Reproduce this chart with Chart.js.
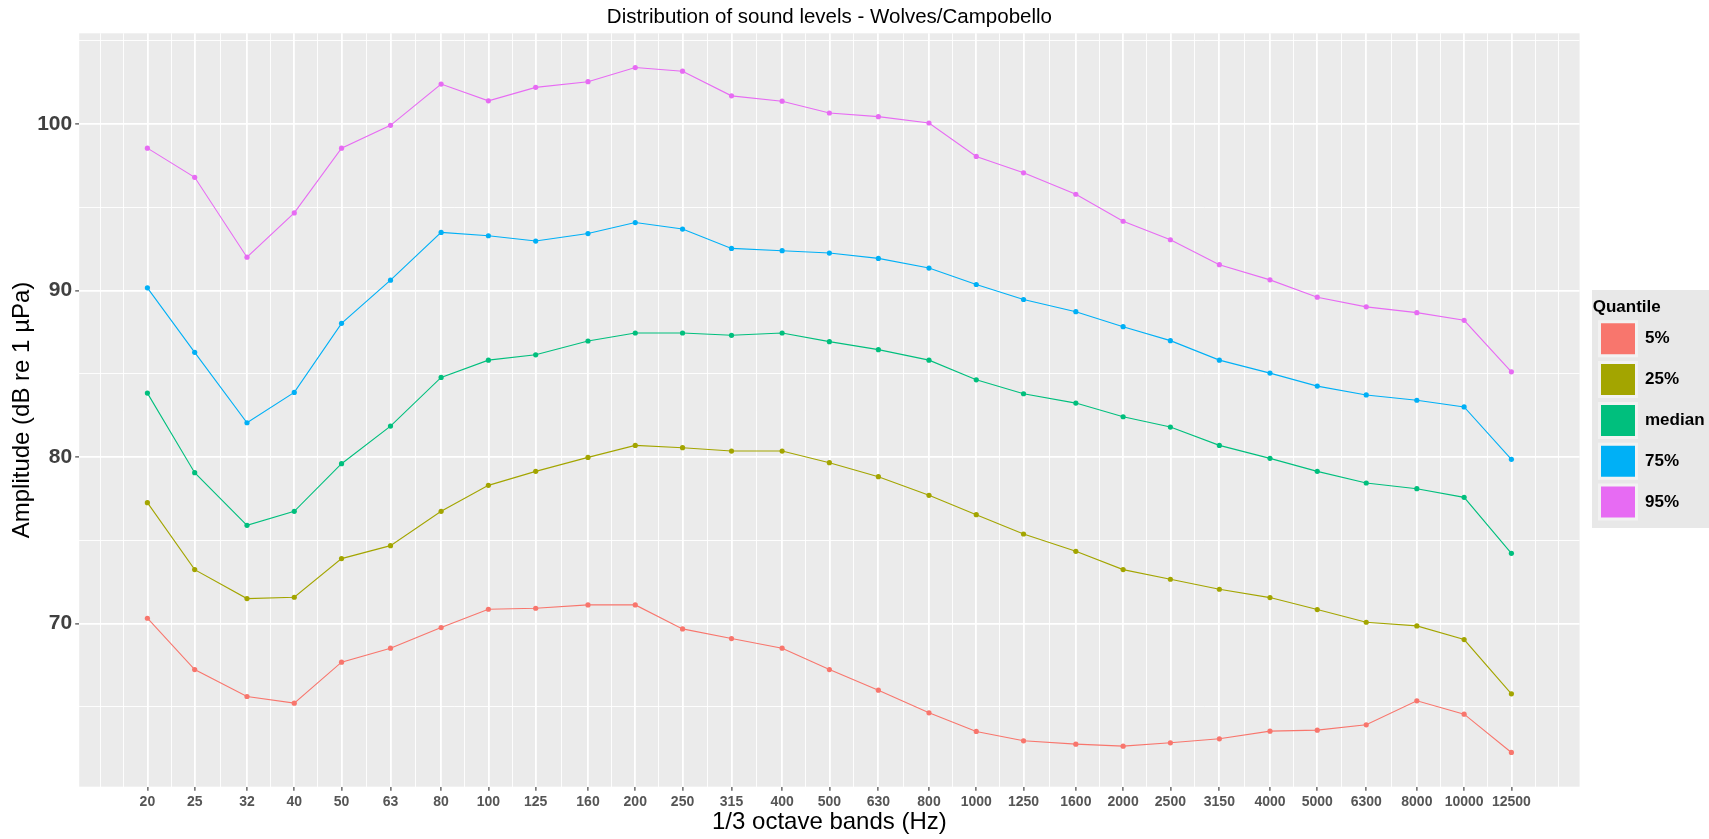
<!DOCTYPE html>
<html>
<head>
<meta charset="utf-8">
<script src="https://cdn.jsdelivr.net/npm/chart.js@4.4.1/dist/chart.umd.min.js"></script>
<style>
  html, body { margin: 0; padding: 0; background: #ffffff; }
  canvas { display: block; }
</style>
</head>
<body>
<canvas id="chart" width="1709" height="839"></canvas>
<script>
// ---------------- data ----------------
const bands = [20, 25, 32, 40, 50, 63, 80, 100, 125, 160, 200, 250, 315, 400, 500, 630, 800,
  1000, 1250, 1600, 2000, 2500, 3150, 4000, 5000, 6300, 8000, 10000, 12500];
const bandLabels = ['20', '25', '32', '40', '50', '63', '80', '100', '125', '160', '200', '250', '315',
  '400', '500', '630', '800', '1000', '1250', '1600', '2000', '2500', '3150', '4000', '5000', '6300',
  '8000', '10000', '12500'];

const q05 = [70.32, 67.24, 65.62, 65.22, 67.68, 68.52, 69.76, 70.86, 70.92, 71.12,
  71.12, 69.68, 69.10, 68.52, 67.24, 66.00, 64.64, 63.52, 62.96, 62.76,
  62.64, 62.84, 63.08, 63.54, 63.60, 63.92, 65.36, 64.56, 62.26];
const q25 = [77.26, 73.24, 71.50, 71.58, 73.90, 74.68, 76.74, 78.30, 79.14, 79.98,
  80.70, 80.56, 80.36, 80.36, 79.66, 78.82, 77.70, 76.54, 75.38, 74.34,
  73.24, 72.66, 72.06, 71.56, 70.84, 70.08, 69.86, 69.04, 65.78];
const qMedian = [83.84, 79.06, 75.90, 76.74, 79.60, 81.86, 84.78, 85.82, 86.14, 86.97,
  87.45, 87.45, 87.31, 87.45, 86.93, 86.45, 85.82, 84.64, 83.80, 83.24,
  82.42, 81.80, 80.70, 79.92, 79.14, 78.44, 78.10, 77.58, 74.22];
const q75 = [90.16, 86.29, 82.06, 83.88, 88.03, 90.62, 93.49, 93.29, 92.97, 93.42,
  94.08, 93.69, 92.53, 92.39, 92.25, 91.93, 91.35, 90.36, 89.46, 88.73,
  87.83, 86.99, 85.82, 85.04, 84.26, 83.73, 83.41, 83.01, 79.86];
const q95 = [98.55, 96.80, 92.00, 94.66, 98.55, 99.92, 102.40, 101.39, 102.20, 102.54,
  103.39, 103.17, 101.69, 101.37, 100.66, 100.44, 100.06, 98.05, 97.07, 95.78,
  94.16, 93.05, 91.55, 90.64, 89.60, 89.02, 88.67, 88.21, 85.12];

const seriesNames = ['5%', '25%', 'median', '75%', '95%'];
const seriesValues = [q05, q25, qMedian, q75, q95];
const seriesColors = ['#F8766D', '#A3A500', '#00BF7D', '#00B0F6', '#E76BF3'];

const yMajorTicks = [70, 80, 90, 100];
const yMinorTicks = [65, 75, 85, 95, 105];

const chartTitle = 'Distribution of sound levels - Wolves/Campobello';
const xTitle = '1/3 octave bands (Hz)';
const yTitle = 'Amplitude (dB re 1 µPa)';
const legendTitle = 'Quantile';

// ---------------- scale limits (ggplot-like 5% expansion) ----------------
const logB = bands.map(Math.log10);
const lRange = logB[logB.length - 1] - logB[0];
const xMin = Math.pow(10, logB[0] - 0.05 * lRange);
const xMax = Math.pow(10, logB[logB.length - 1] + 0.05 * lRange);
const allVals = seriesValues.flat();
const vMin = Math.min(...allVals), vMax = Math.max(...allVals);
const yMin = vMin - 0.05 * (vMax - vMin);
const yMax = vMax + 0.05 * (vMax - vMin);

// minor vertical grid positions (midpoints in log space, plus one extension step each side)
const stepL = logB[1] - logB[0];
const ext = [logB[0] - stepL, ...logB, logB[logB.length - 1] + stepL];
const xMinor = [Math.pow(10, ext[0]), Math.pow(10, ext[ext.length - 1])];
for (let i = 0; i < ext.length - 1; i++) xMinor.push(Math.pow(10, (ext[i] + ext[i + 1]) / 2));
const xTickValues = bands.concat(xMinor).filter(v => v >= xMin && v <= xMax).sort((a, b) => a - b);

function bandIndex(v) {
  for (let i = 0; i < bands.length; i++) if (Math.abs(v - bands[i]) < 1e-6 * bands[i]) return i;
  return -1;
}
function isMajorX(ctx) { return ctx && ctx.tick ? bandIndex(ctx.tick.value) >= 0 : false; }
function isMajorY(ctx) { return ctx && ctx.tick ? yMajorTicks.includes(ctx.tick.value) : false; }

const FONT = "'Liberation Sans', Arial, sans-serif";
Chart.defaults.font.family = FONT;

// ---------------- background plugin ----------------
const backgroundPlugin = {
  id: 'ggBackground',
  beforeDraw(chart) {
    const {ctx, chartArea: a} = chart;
    ctx.save();
    ctx.fillStyle = '#FFFFFF';
    ctx.fillRect(0, 0, chart.width, chart.height);
    ctx.fillStyle = '#EBEBEB';
    ctx.fillRect(a.left, a.top, a.right - a.left, a.bottom - a.top);
    const lg = chart.legend;
    if (lg) {
      const cy = (a.top + a.bottom) / 2;
      ctx.fillStyle = '#E8E8E8';
      ctx.fillRect(lg.left - 0.7, cy - 120, chart.width - lg.left + 1, 238);
    }
    ctx.restore();
  }
};

const datasets = seriesNames.map((name, i) => ({
  label: name,
  data: bands.map((b, j) => ({x: b, y: seriesValues[i][j]})),
  borderColor: seriesColors[i],
  backgroundColor: seriesColors[i],
  pointBackgroundColor: seriesColors[i],
  pointBorderWidth: 0,
  pointRadius: 2.6,
  borderWidth: 1.1,
  tension: 0,
  fill: false,
  xAxisID: 'x',
  yAxisID: 'y'
}));

new Chart(document.getElementById('chart'), {
  type: 'line',
  data: { datasets },
  plugins: [backgroundPlugin],
  options: {
    responsive: false,
    animation: false,
    devicePixelRatio: 1,
    layout: { padding: 0 },
    plugins: {
      tooltip: { enabled: false },
      title: {
        display: true,
        text: chartTitle,
        color: '#000000',
        fullSize: false,
        font: { family: FONT, size: 20.5, weight: 'normal' },
        padding: { top: 4.7, bottom: 4 }
      },
      legend: {
        display: true,
        position: 'right',
        align: 'start',
        fullSize: true,
        maxWidth: 116.3,
        title: {
          display: true,
          text: legendTitle,
          color: '#000000',
          position: 'start',
          font: { family: FONT, size: 17, weight: 'bold' },
          padding: { top: 298.5, bottom: -3.9 }
        },
        labels: {
          boxWidth: 37,
          boxHeight: 34,
          padding: 6.8,
          color: '#000000',
          font: { family: FONT, size: 17, weight: 'bold' },
          generateLabels(chart) {
            return chart.data.datasets.map((d, i) => ({
              text: d.label,
              fillStyle: d.borderColor,
              strokeStyle: '#F2F2F2',
              lineWidth: 3,
              hidden: false,
              datasetIndex: i,
              fontColor: '#000000'
            }));
          }
        }
      }
    },
    scales: {
      x: {
        type: 'logarithmic',
        position: 'bottom',
        min: xMin,
        max: xMax,
        afterBuildTicks(scale) {
          scale.ticks = xTickValues.map(v => ({ value: v, major: false }));
        },
        afterFit(scale) { scale.height = 52.3; },
        ticks: {
          autoSkip: false,
          maxRotation: 0,
          minRotation: 0,
          padding: 3,
          color: '#555555',
          font: { family: FONT, size: 14, weight: 'bold' },
          callback(value) {
            const k = bandIndex(value);
            return k >= 0 ? bandLabels[k] : '';
          }
        },
        grid: {
          color: '#FFFFFF',
          lineWidth: ctx => isMajorX(ctx) ? 1.8 : 0.9,
          drawTicks: true,
          tickLength: 4,
          tickWidth: 1.1,
          tickColor: ctx => isMajorX(ctx) ? '#333333' : 'rgba(0,0,0,0)'
        },
        border: { display: false },
        title: {
          display: true,
          text: xTitle,
          color: '#000000',
          font: { family: FONT, size: 24, weight: 'normal' },
          padding: { top: 0, bottom: 2.4 }
        }
      },
      y: {
        type: 'linear',
        position: 'left',
        min: yMin,
        max: yMax,
        afterBuildTicks(scale) {
          scale.ticks = yMajorTicks.concat(yMinorTicks).sort((a, b) => a - b).map(v => ({ value: v }));
        },
        afterFit(scale) { scale.width = 79.2; },
        ticks: {
          autoSkip: false,
          padding: 3,
          color: '#404040',
          font: { family: FONT, size: 21, weight: 'bold' },
          callback(value) { return yMajorTicks.includes(value) ? String(value) : ''; }
        },
        grid: {
          color: '#FFFFFF',
          lineWidth: ctx => isMajorY(ctx) ? 1.8 : 0.9,
          drawTicks: true,
          tickLength: 4,
          tickWidth: 1.1,
          tickColor: ctx => isMajorY(ctx) ? '#333333' : 'rgba(0,0,0,0)'
        },
        border: { display: false },
        title: {
          display: true,
          text: yTitle,
          color: '#000000',
          font: { family: FONT, size: 24, weight: 'normal' },
          padding: { top: 8, bottom: 0 }
        }
      },
      gap: {
        type: 'linear',
        position: 'right',
        display: true,
        afterFit(scale) { scale.width = 13.1; },
        ticks: { display: false },
        grid: { display: false, drawTicks: false },
        border: { display: false }
      }
    }
  }
});
</script>
</body>
</html>
